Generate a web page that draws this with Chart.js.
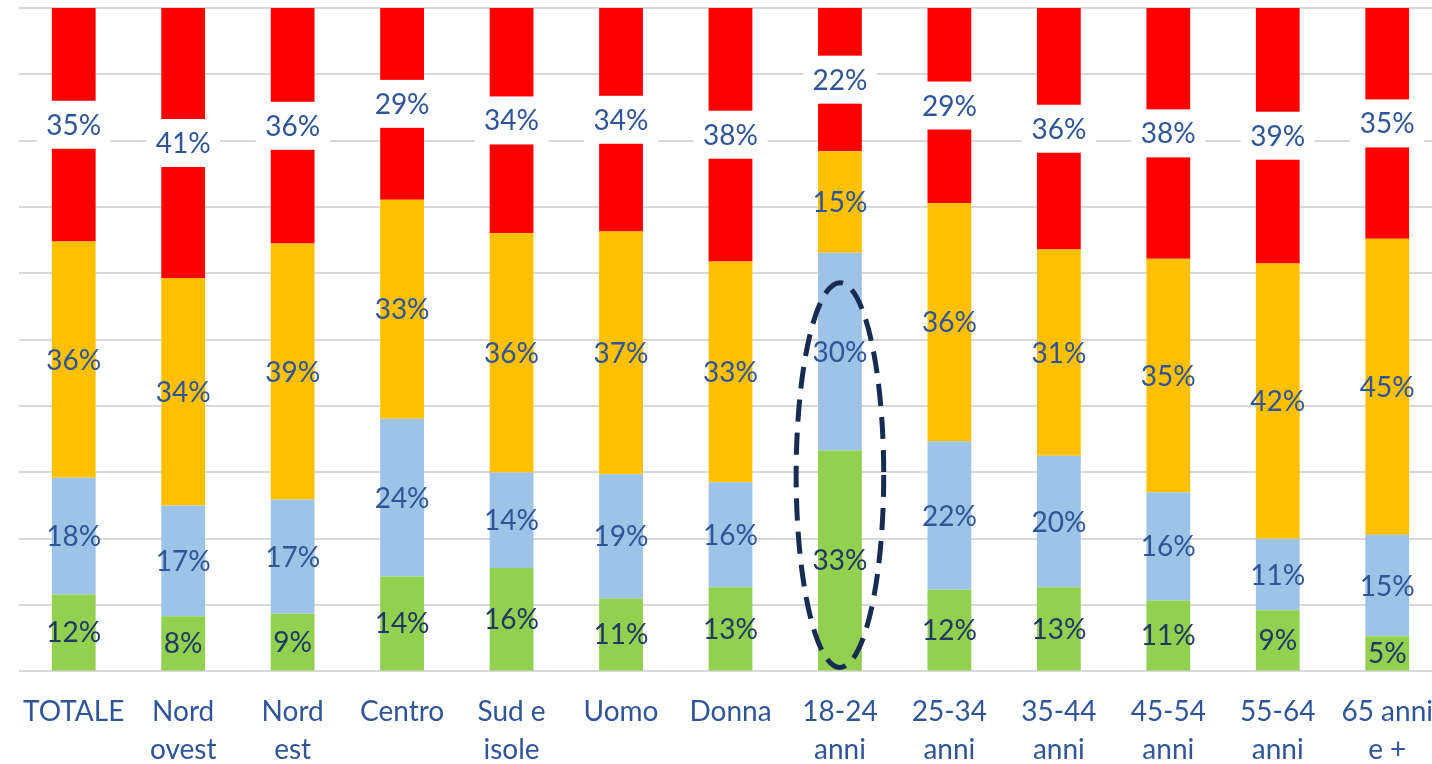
<!DOCTYPE html>
<html>
<head>
<meta charset="utf-8">
<script src="https://cdn.jsdelivr.net/npm/chart.js@4.4.0/dist/chart.umd.min.js"></script>
<style>
  html, body { margin: 0; padding: 0; background: #fff; overflow: hidden; }
  #wrap { width: 1432px; height: 764px; overflow: hidden; position: relative; }
  canvas { display: block; }
</style>
</head>
<body>
<div id="wrap"><canvas id="chart" width="1447" height="794" style="width:1447px;height:794px"></canvas></div>
<script>
// categorie (etichette su due righe)
const categories = [
  ['TOTALE'], ['Nord', 'ovest'], ['Nord', 'est'], ['Centro'], ['Sud e', 'isole'],
  ['Uomo'], ['Donna'], ['18-24', 'anni'], ['25-34', 'anni'], ['35-44', 'anni'],
  ['45-54', 'anni'], ['55-64', 'anni'], ['65 anni', 'e +']
];

// valori in % (dal basso verso l'alto)
const verde   = [11.6, 8.3, 8.7, 14.3, 15.6, 11.0, 12.7, 33.3, 12.3, 12.7, 10.7, 9.2, 5.3];
const azzurro = [17.6, 16.7, 17.2, 23.8, 14.4, 18.7, 15.8, 29.8, 22.4, 19.8, 16.3, 10.8, 15.3];
const giallo  = [35.6, 34.3, 38.6, 33.0, 36.1, 36.6, 33.3, 15.3, 35.9, 31.1, 35.2, 41.5, 44.6];
const rosso   = [35.2, 40.7, 35.6, 28.9, 33.9, 33.7, 38.2, 21.6, 29.4, 36.4, 37.8, 38.5, 34.8];

const FONT = 'Lato, "Open Sans", sans-serif';
const BLU = '#2F5597';
const BLU_SCURO = '#1F3864';

// etichette percentuali dentro le barre (quella rossa con riquadro bianco)
const etichette = {
  id: 'etichette',
  afterDatasetsDraw(chart) {
    const { ctx, chartArea, scales } = chart;

    // ellisse tratteggiata attorno a 18-24 anni
    const xs = scales.x, ys = scales.y;
    const cx = xs.getPixelForValue(7);
    const larg = (xs.getPixelForValue(1) - xs.getPixelForValue(0)) * 0.4;
    const yTop = ys.getPixelForValue(58.6), yBot = ys.getPixelForValue(0.6);
    ctx.save();
    ctx.beginPath();
    ctx.ellipse(cx, (yTop + yBot) / 2, larg, (yBot - yTop) / 2, 0, 0, Math.PI * 2);
    ctx.setLineDash([22, 11]);
    ctx.lineWidth = 5;
    ctx.strokeStyle = '#172C51';
    ctx.stroke();
    ctx.restore();

    ctx.save();
    ctx.font = '28px ' + FONT;
    ctx.textAlign = 'center';
    ctx.textBaseline = 'middle';
    chart.data.datasets.forEach((ds, i) => {
      chart.getDatasetMeta(i).data.forEach((bar, j) => {
        const top = Math.max(bar.y, chartArea.top);
        const y = (top + bar.base) / 2;
        const txt = Math.round(ds.data[j]) + '%';
        if (i === 3) {
          const w = ctx.measureText(txt).width + 19;
          ctx.fillStyle = '#fff';
          ctx.fillRect(bar.x - w / 2, y - 24, w, 48);
        }
        ctx.fillStyle = i === 0 ? BLU_SCURO : BLU;
        ctx.fillText(txt, bar.x, y + 1);
      });
    });
    ctx.restore();
  }
};

new Chart(document.getElementById('chart'), {
  type: 'bar',
  data: {
    labels: categories,
    datasets: [
      { label: 'verde', data: verde, backgroundColor: '#92D050' },
      { label: 'azzurro', data: azzurro, backgroundColor: '#9DC3E6' },
      { label: 'giallo', data: giallo, backgroundColor: '#FFC000' },
      { label: 'rosso', data: rosso, backgroundColor: '#FF0000' }
    ]
  },
  options: {
    responsive: false,
    animation: false,
    layout: { padding: { left: 19, top: 8, right: 0, bottom: 11 } },
    datasets: { bar: { barPercentage: 0.4, categoryPercentage: 1.0 } },
    plugins: { legend: { display: false }, tooltip: { enabled: false } },
    scales: {
      x: {
        stacked: true,
        grid: { display: false },
        border: { display: false },
        ticks: {
          color: BLU,
          font: { family: FONT, size: 28, lineHeight: 1.35 },
          padding: 14,
          maxRotation: 0,
          autoSkip: false
        }
      },
      y: {
        stacked: true,
        min: 0,
        max: 100,
        ticks: { display: false, stepSize: 10 },
        border: { display: false },
        grid: { color: '#D9D9D9', lineWidth: 2, drawTicks: false }
      }
    }
  },
  plugins: [etichette]
});
</script>
</body>
</html>
